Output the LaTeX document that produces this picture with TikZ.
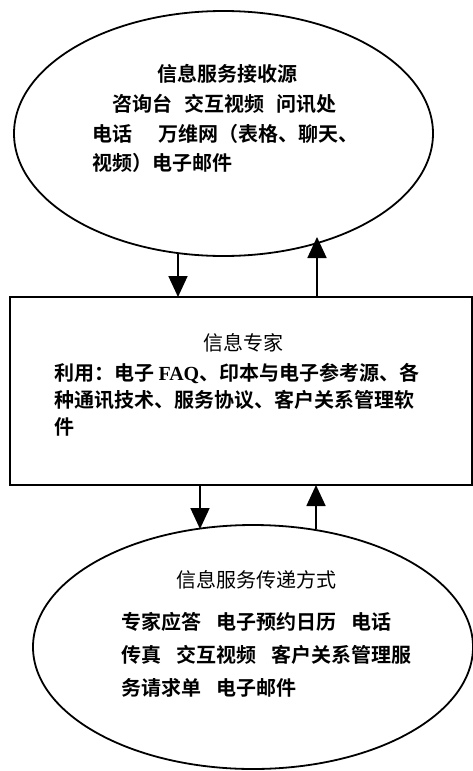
\documentclass[tikz,border=0pt]{standalone}
\usepackage{fontspec}
\setmainfont{Noto Sans CJK SC}[BoldFont={Noto Sans CJK SC Bold}]
\newfontfamily\latserif{Liberation Serif}
\usetikzlibrary{arrows.meta,shapes.geometric}
\begin{document}
\begin{tikzpicture}[x=1pt,y=-1pt,
  every node/.style={inner sep=0pt,outer sep=0pt},
  oval/.style={ellipse,draw,line width=1.8pt},
  panel/.style={rectangle,draw,line width=1.8pt},
  txt/.style={anchor=west,font=\fontsize{20}{24}\selectfont\bfseries},
  ttl/.style={anchor=center,font=\fontsize{20}{24}\selectfont},
  arr/.style={line width=1.8pt,-{Triangle[length=21pt,width=19pt]}}]
\useasboundingbox (0,0) rectangle (473,771);
% shapes
\node[oval,minimum width=419pt,minimum height=245pt] (src) at (223.5,133.5) {};
\node[panel,minimum width=462pt,minimum height=188pt] (exp) at (241,391) {};
\node[oval,minimum width=440pt,minimum height=244pt] (dlv) at (253,647) {};
% top ellipse text
\node[ttl,font=\fontsize{20}{24}\selectfont\bfseries] (s1) at (227,74) {信息服务接收源};
\node[txt] (s2) at (112,104) {咨询台\hspace{0.6em}交互视频\hspace{0.6em}问讯处};
\node[txt] (s3) at (92,134) {电话\hspace{1.3em}万维网（表格、聊天、};
\node[txt] (s4) at (92,163) {视频）电子邮件};
% box text
\node[ttl] (e1) at (243,343) {信息专家};
\node[txt] (e2) at (54,373) {利用：电子 {\latserif\bfseries FAQ}、印本与电子参考源、各};
\node[txt] (e3) at (54,400) {种通讯技术、服务协议、客户关系管理软};
\node[txt] (e4) at (54,427) {件};
% bottom ellipse text
\node[ttl] (d1) at (256,580) {信息服务传递方式};
\node[txt] (d2) at (121,622) {专家应答\hspace{0.75em}电子预约日历\hspace{0.75em}电话};
\node[txt] (d3) at (121,655) {传真\hspace{0.75em}交互视频\hspace{0.75em}客户关系管理服};
\node[txt] (d4) at (121,688) {务请求单\hspace{0.75em}电子邮件};
% connector end points on the ellipses
\coordinate (a1) at (178,253);
\coordinate (a2) at (317,237);
\coordinate (b1) at (200,529);
\coordinate (b2) at (316,529);
% connectors
\draw[arr] (a1) -- (a1 |- exp.north);
\draw[arr] (a2 |- exp.north) -- (a2);
\draw[arr] (b1 |- exp.south) -- (b1);
\draw[arr] (b2) -- (b2 |- exp.south);
\end{tikzpicture}
\end{document}
